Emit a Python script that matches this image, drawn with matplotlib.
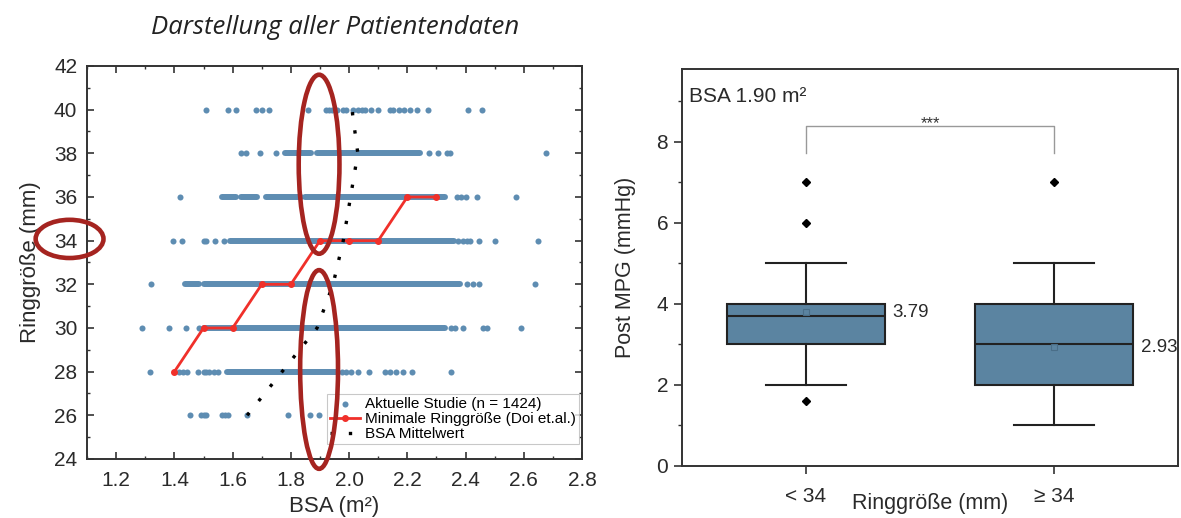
import matplotlib
matplotlib.use("Agg")
import matplotlib.pyplot as plt
from matplotlib.patches import Ellipse
from matplotlib.ticker import MultipleLocator, FormatStrFormatter

plt.rcParams["font.family"] = ["Liberation Sans", "DejaVu Sans"]

# ---- left panel: BSA values per ring size (single dots + dense strips) ----
bsa_26 = [1.455, 1.49, 1.50, 1.51, 1.565, 1.575, 1.585, 1.65, 1.79, 1.865, 1.895]
strip_26 = []
bsa_28 = [1.315, 1.415, 1.43, 1.445, 1.48, 1.50, 1.51, 1.52, 1.535, 1.55,
          1.975, 1.99, 2.005, 2.03, 2.07, 2.125, 2.14, 2.16, 2.185, 2.215, 2.35]
strip_28 = [(1.58, 1.96)]
bsa_30 = [1.29, 1.38, 1.44, 1.485, 2.35, 2.365, 2.39, 2.46, 2.475, 2.59]
strip_30 = [(1.50, 2.33)]
bsa_32 = [1.32, 2.405, 2.425, 2.445, 2.64]
strip_32 = [(1.435, 1.485), (1.50, 2.38)]
bsa_34 = [1.395, 1.425, 1.50, 1.51, 1.54, 1.57, 2.375, 2.39, 2.405, 2.415,
          2.445, 2.50, 2.65]
strip_34 = [(1.59, 2.36)]
bsa_36 = [1.42, 2.37, 2.385, 2.40, 2.44, 2.575]
strip_36 = [(1.565, 1.61), (1.63, 1.685), (1.715, 1.835), (1.85, 2.33)]
bsa_38 = [1.63, 1.645, 1.695, 1.75, 2.275, 2.305, 2.335, 2.345, 2.675]
strip_38 = [(1.78, 1.87), (1.89, 2.245)]
bsa_40 = [1.51, 1.585, 1.61, 1.68, 1.70, 1.725, 1.86, 1.92, 1.93, 1.94, 1.96,
          1.98, 1.99, 2.015, 2.03, 2.045, 2.055, 2.075, 2.10, 2.14, 2.15, 2.17,
          2.19, 2.21, 2.235, 2.27, 2.41, 2.455]
strip_40 = []

# minimal ring size (Doi et al.)
doi_bsa = [1.4, 1.5, 1.6, 1.7, 1.8, 1.9, 2.0, 2.1, 2.2, 2.3]
doi_ring = [28, 30, 30, 32, 32, 34, 34, 34, 36, 36]

# mean BSA per ring size
mean_ring = [26, 28, 30, 32, 34, 36, 38, 40]
mean_bsa = [1.65, 1.77, 1.89, 1.945, 1.98, 2.005, 2.03, 2.01]

# ---- right panel: post MPG by ring size group ----
groups = ["< 34", "\u2265 34"]
med = [3.7, 3.0]
q1 = [3.0, 2.0]
q3 = [4.0, 4.0]
whis_lo = [2.0, 1.0]
whis_hi = [5.0, 5.0]
fliers = [[7.0, 6.0, 1.6], [7.0]]
means = [3.79, 2.93]

DOT = "#5e8db2"
BOX = "#5b84a1"
RED = "#f0302a"
ELL = "#a52420"
SPINE = "#333333"
TXT = "#2a2a2a"

fig = plt.figure(figsize=(11.81, 5.18), dpi=100)

# ================= left =================
ax = fig.add_axes([0.0737, 0.1139, 0.4191, 0.7587])
rows = [(26, bsa_26, strip_26), (28, bsa_28, strip_28), (30, bsa_30, strip_30),
        (32, bsa_32, strip_32), (34, bsa_34, strip_34), (36, bsa_36, strip_36),
        (38, bsa_38, strip_38), (40, bsa_40, strip_40)]
first = True
for ring, pts, strips in rows:
    ax.scatter(pts, [ring] * len(pts), s=19, color=DOT, linewidths=0, zorder=2,
               label="Aktuelle Studie (n = 1424)" if first else None)
    first = False
    for x0, x1 in strips:
        ax.plot([x0, x1], [ring, ring], color=DOT, lw=4.3,
                solid_capstyle="round", zorder=2)

ax.plot(doi_bsa, doi_ring, color=RED, lw=2, marker="o", markersize=4,
        zorder=3, label="Minimale Ringgröße (Doi et.al.)")
ax.plot(mean_bsa, mean_ring, color="black", lw=2.4,
        linestyle=(0, (1, 4.5)), zorder=3, label="BSA Mittelwert")

ax.set_xlim(1.1, 2.8)
ax.set_ylim(24, 42)
ax.xaxis.set_major_locator(MultipleLocator(0.2))
ax.xaxis.set_minor_locator(MultipleLocator(0.1))
ax.yaxis.set_major_locator(MultipleLocator(2))
ax.yaxis.set_minor_locator(MultipleLocator(1))
ax.tick_params(which="both", direction="in", top=True, right=True,
               color=SPINE, labelsize=15, labelcolor=TXT)
ax.tick_params(which="major", length=5, width=1.2)
ax.tick_params(which="minor", length=2.5, width=1.0)
ax.tick_params(axis="x", which="major", pad=9)
ax.tick_params(axis="y", which="major", pad=7)
ax.xaxis.set_major_formatter(FormatStrFormatter("%.1f"))
for s in ax.spines.values():
    s.set_color(SPINE)
    s.set_linewidth(1.4)
ax.set_xlabel("BSA (m²)", fontsize=16, color=TXT, labelpad=4)
ax.set_ylabel("Ringgröße (mm)", fontsize=16, color=TXT, labelpad=9)

leg = ax.legend(loc="lower right", bbox_to_anchor=(1.0, 0.03), fontsize=11,
                frameon=True, fancybox=False, edgecolor="#bbbbbb",
                handlelength=2.0, handletextpad=0.3, borderpad=0.2,
                labelspacing=0.08, scatterpoints=1, numpoints=1,
                borderaxespad=0.2)
leg.get_frame().set_linewidth(0.8)
leg.set_zorder(5)

for cx, cy, w, h in [(1.897, 37.5, 0.14, 8.2), (1.897, 28.1, 0.13, 9.1),
                     (1.04, 34.08, 0.233, 1.75)]:
    ax.add_patch(Ellipse((cx, cy), w, h, fill=False, edgecolor=ELL, lw=3.3,
                         clip_on=False, zorder=6))

fig.text(0.2837, 1 - 28 / 518, "Darstellung aller Patientendaten",
         fontsize=18.5, style="italic", family=["Open Sans", "DejaVu Sans"],
         color="#222222", ha="center", va="center")

# ================= right =================
bx = fig.add_axes([0.5775, 0.1004, 0.4200, 0.7664])
stats = []
for i in range(len(groups)):
    stats.append({"med": med[i], "q1": q1[i], "q3": q3[i],
                  "whislo": whis_lo[i], "whishi": whis_hi[i],
                  "fliers": fliers[i], "mean": means[i], "label": groups[i]})
bx.bxp(stats, positions=[0, 1], widths=0.64, capwidths=0.32, patch_artist=True,
       showmeans=True, showfliers=True,
       boxprops=dict(facecolor=BOX, edgecolor="#222222", linewidth=1.5),
       medianprops=dict(color="#222222", linewidth=1.5),
       whiskerprops=dict(color="#222222", linewidth=1.5),
       capprops=dict(color="#222222", linewidth=1.5),
       flierprops=dict(marker="D", markersize=4, markerfacecolor="black",
                       markeredgecolor="black"),
       meanprops=dict(marker="s", markersize=4, markerfacecolor="none",
                      markeredgecolor="#4a6e88", markeredgewidth=0.8))

for i, m in enumerate(means):
    bx.text(i + 0.35, m, f"{m:.2f}", fontsize=13.5, color=TXT,
            ha="left", va="center")

bx.plot([0, 0, 1, 1], [7.73, 8.4, 8.4, 7.73], color="#999999", lw=1)
bx.text(0.5, 8.33, "***", ha="center", va="baseline", fontsize=12,
        color="#333333")
bx.text(0.015, 0.955, "BSA 1.90 m²", transform=bx.transAxes, fontsize=15,
        color=TXT, ha="left", va="top")

bx.set_xlim(-0.5, 1.5)
bx.set_ylim(0, 9.8)
bx.yaxis.set_major_locator(MultipleLocator(2))
bx.yaxis.set_minor_locator(MultipleLocator(1))
bx.tick_params(which="both", direction="out", color=SPINE, labelsize=15,
               labelcolor=TXT)
bx.tick_params(which="major", length=6, width=1.2)
bx.tick_params(which="minor", length=3, width=1.0)
bx.tick_params(axis="x", pad=9)
bx.tick_params(axis="y", pad=4)
for s in bx.spines.values():
    s.set_color(SPINE)
    s.set_linewidth(1.4)
bx.set_xlabel("Ringgröße (mm)", fontsize=15.5, color=TXT, labelpad=-9)
bx.set_ylabel("Post MPG (mmHg)", fontsize=15.5, color=TXT, labelpad=15)

fig.savefig("out.png", dpi=100)
